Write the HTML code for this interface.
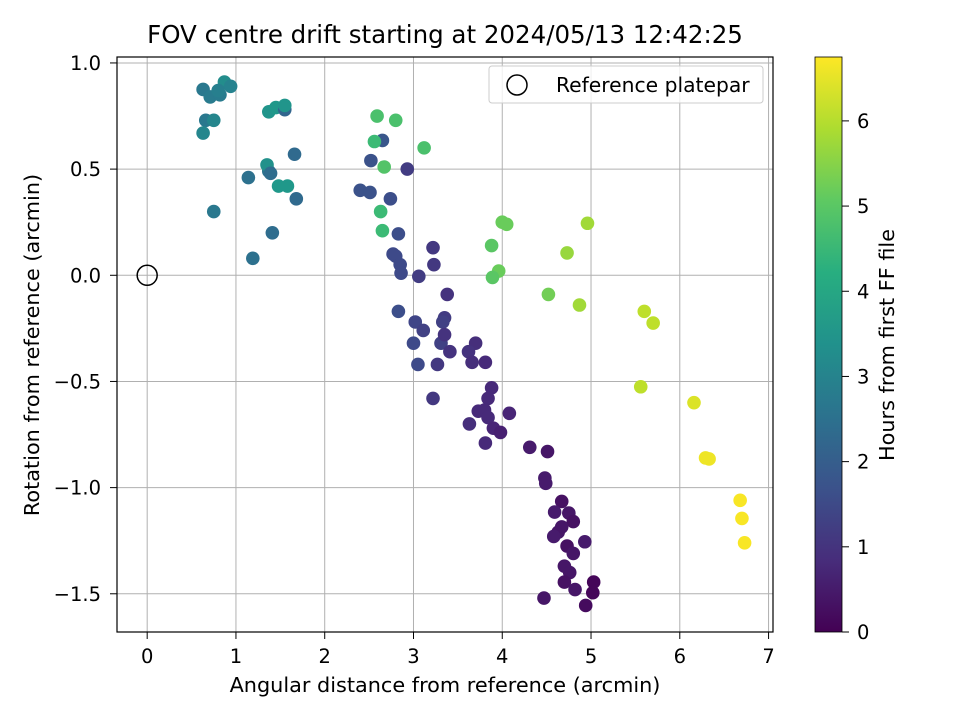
<!DOCTYPE html>
<html><head><meta charset="utf-8"><style>
body{margin:0;background:#fff}
svg text{font-family:"DejaVu Sans","Liberation Sans",sans-serif;fill:#000}
</style></head><body>
<svg id="chart" width="960" height="720" xmlns="http://www.w3.org/2000/svg">
<defs><linearGradient id="vir" x1="0" y1="1" x2="0" y2="0">
<stop offset="0" stop-color="#440154"/><stop offset="0.125" stop-color="#472d7b"/><stop offset="0.25" stop-color="#3b528b"/><stop offset="0.375" stop-color="#2c728e"/><stop offset="0.5" stop-color="#21918c"/><stop offset="0.625" stop-color="#28ae80"/><stop offset="0.75" stop-color="#5ec962"/><stop offset="0.875" stop-color="#addc30"/><stop offset="1" stop-color="#fde725"/></linearGradient></defs>
<text x="445" y="43" font-size="24.5" text-anchor="middle">FOV centre drift starting at 2024/05/13 12:42:25</text>
<g id="grid"></g><g id="pts"></g><g id="axes"></g>
<text x="445" y="692" font-size="20.8" text-anchor="middle">Angular distance from reference (arcmin)</text>
<text transform="translate(39,345) rotate(-90)" font-size="20.8" text-anchor="middle">Rotation from reference (arcmin)</text>
<g>
<rect x="489" y="66" width="274" height="37" rx="3" fill="#fff" fill-opacity="0.8" stroke="#ccc"/>
<circle cx="517" cy="85" r="10" fill="none" stroke="#000" stroke-width="1.5"/>
<text x="556" y="92" font-size="20.3">Reference platepar</text>
</g>
<rect x="815" y="57" width="27" height="575" fill="url(#vir)" stroke="#000" stroke-width="0.8"/>
<g id="cbticks"></g>
<text transform="translate(894,345) rotate(-90)" font-size="20.8" text-anchor="middle">Hours from first FF file</text>
</svg>
<script>
const xTicks=[0,1,2,3,4,5,6,7];
const yTicks=[1.0,0.5,0.0,-0.5,-1.0,-1.5];
const yTickLabels=["1.0","0.5","0.0","\u22120.5","\u22121.0","\u22121.5"];
const cTicks=[0,1,2,3,4,5,6];
const xs=[0.63,0.87,0.94,0.71,0.82,0.80,0.66,0.75,0.63,0.75,1.14,1.19,1.41,1.37,1.35,1.39,1.37,1.45,1.55,1.55,1.66,1.68,1.48,1.58,
2.59,2.80,2.65,2.56,3.12,2.52,2.67,2.93,2.40,2.51,2.74,2.63,2.65,2.83,2.77,2.80,2.85,2.86,3.22,3.23,3.06,
3.38,2.83,3.02,3.11,3.00,3.31,3.35,3.33,3.35,3.41,3.05,3.27,3.70,3.62,3.66,3.81,3.22,3.88,3.84,3.73,3.80,3.84,4.08,3.63,3.90,3.98,3.81,4.31,4.51,
4.00,4.05,3.88,3.96,3.89,4.96,4.73,4.52,4.87,5.60,5.70,5.56,6.16,6.29,6.33,6.68,6.70,6.73,
4.48,4.49,4.67,4.59,4.75,4.80,4.67,4.63,4.58,4.93,4.73,4.80,4.70,4.76,4.70,4.82,5.03,5.02,4.47,4.94];
const ys=[0.875,0.91,0.89,0.84,0.85,0.87,0.73,0.73,0.67,0.30,0.46,0.08,0.20,0.49,0.52,0.48,0.77,0.79,0.78,0.80,0.57,0.36,0.42,0.42,
0.75,0.73,0.635,0.63,0.60,0.54,0.51,0.50,0.40,0.39,0.36,0.30,0.21,0.195,0.10,0.09,0.05,0.01,0.13,0.05,-0.005,
-0.09,-0.17,-0.22,-0.26,-0.32,-0.32,-0.20,-0.22,-0.28,-0.36,-0.42,-0.42,-0.32,-0.36,-0.41,-0.41,-0.58,-0.53,-0.58,-0.64,-0.635,-0.67,-0.65,-0.70,-0.72,-0.74,-0.79,-0.81,-0.83,
0.25,0.24,0.14,0.02,-0.01,0.245,0.105,-0.09,-0.14,-0.17,-0.225,-0.525,-0.60,-0.86,-0.865,-1.06,-1.145,-1.26,
-0.955,-0.98,-1.065,-1.115,-1.12,-1.16,-1.185,-1.21,-1.23,-1.255,-1.275,-1.31,-1.37,-1.40,-1.445,-1.48,-1.445,-1.495,-1.52,-1.555];
const hours=[2.7,3.3,3.0,2.8,2.8,2.9,2.7,3.1,3.1,2.7,2.5,2.5,2.4,2.6,3.4,2.4,3.5,3.6,2.2,3.5,2.3,2.3,3.6,3.6,
4.8,4.8,1.8,4.6,4.8,1.7,4.9,1.2,1.7,1.7,1.6,4.6,4.6,1.6,1.5,1.5,1.5,1.5,1.1,1.1,1.2,
1.0,1.6,1.4,1.3,1.5,1.3,1.2,1.3,1.0,1.0,1.5,1.1,0.9,1.0,0.9,0.8,1.1,0.8,0.8,0.8,0.8,0.8,0.7,0.9,0.7,0.6,0.8,0.5,0.4,
5.2,5.2,5.0,5.2,5.0,5.8,5.7,5.3,5.8,6.1,6.1,6.1,6.4,6.6,6.6,6.7,6.7,6.7,
0.5,0.5,0.3,0.5,0.4,0.3,0.4,0.4,0.5,0.5,0.3,0.4,0.4,0.4,0.3,0.4,0.1,0.1,0.4,0.2];
const L=117,R=773,T=57,B=632,X0=-0.34,X1=7.05,Y0=-1.68,Y1=1.028,H1=6.75;
const sx=v=>L+(v-X0)/(X1-X0)*(R-L), sy=v=>B-(v-Y0)/(Y1-Y0)*(B-T), sc=v=>B-v/H1*(B-T);
const NS="http://www.w3.org/2000/svg";
function mk(t,a,p){const e=document.createElementNS(NS,t);for(const k in a)e.setAttribute(k,a[k]);p.appendChild(e);return e;}
const vir=[[68,1,84],[72,40,120],[62,74,137],[49,104,142],[38,130,142],[31,158,137],[53,183,121],[109,205,89],[180,222,44],[253,231,37]];
function cmap(v){let t=Math.max(0,Math.min(1,v/H1))*9,i=Math.min(8,Math.floor(t)),f=t-i;const a=vir[i],b=vir[i+1];return `rgb(${a.map((c,j)=>Math.round(c+(b[j]-c)*f)).join(",")})`;}
const g=document.getElementById('grid'),ax=document.getElementById('axes'),pg=document.getElementById('pts'),cb=document.getElementById('cbticks');
xTicks.forEach(v=>{const x=sx(v);
 const l=mk('line',{x1:x,x2:x,y1:T,y2:B,stroke:'#b0b0b0','stroke-width':1},g);
 
 
 mk('line',{x1:x,x2:x,y1:B,y2:B+7,stroke:'#000'},ax);
 const t=mk('text',{x:x,y:B+31,'font-size':19.5,'text-anchor':'middle'},ax);t.textContent=v;
 
 });
yTicks.forEach((v,i)=>{const y=sy(v);
 const l=mk('line',{x1:L,x2:R,y1:y,y2:y,stroke:'#b0b0b0','stroke-width':1},g);
 
 
 mk('line',{x1:L-7,x2:L,y1:y,y2:y,stroke:'#000'},ax);
 const t=mk('text',{x:L-16,y:y+7,'font-size':19.5,'text-anchor':'end'},ax);t.textContent=yTickLabels[i];
 
 });
const fr=mk('rect',{x:L,y:T,width:R-L,height:B-T,fill:'none',stroke:'#000','stroke-width':1.2},ax);


xs.forEach((v,i)=>{const c=mk('circle',{cx:sx(v),cy:sy(ys[i]),r:6.8,fill:cmap(hours[i])},pg);
 
 });
const ref=mk('circle',{cx:sx(0),cy:sy(0),r:10,fill:'none',stroke:'#000','stroke-width':1.5},pg);


cTicks.forEach(v=>{const y=sc(v);
 mk('line',{x1:842,x2:849,y1:y,y2:y,stroke:'#000'},cb);
 const t=mk('text',{x:857,y:y+7,'font-size':19.5},cb);t.textContent=v;
 
 });
</script>
</body></html>
